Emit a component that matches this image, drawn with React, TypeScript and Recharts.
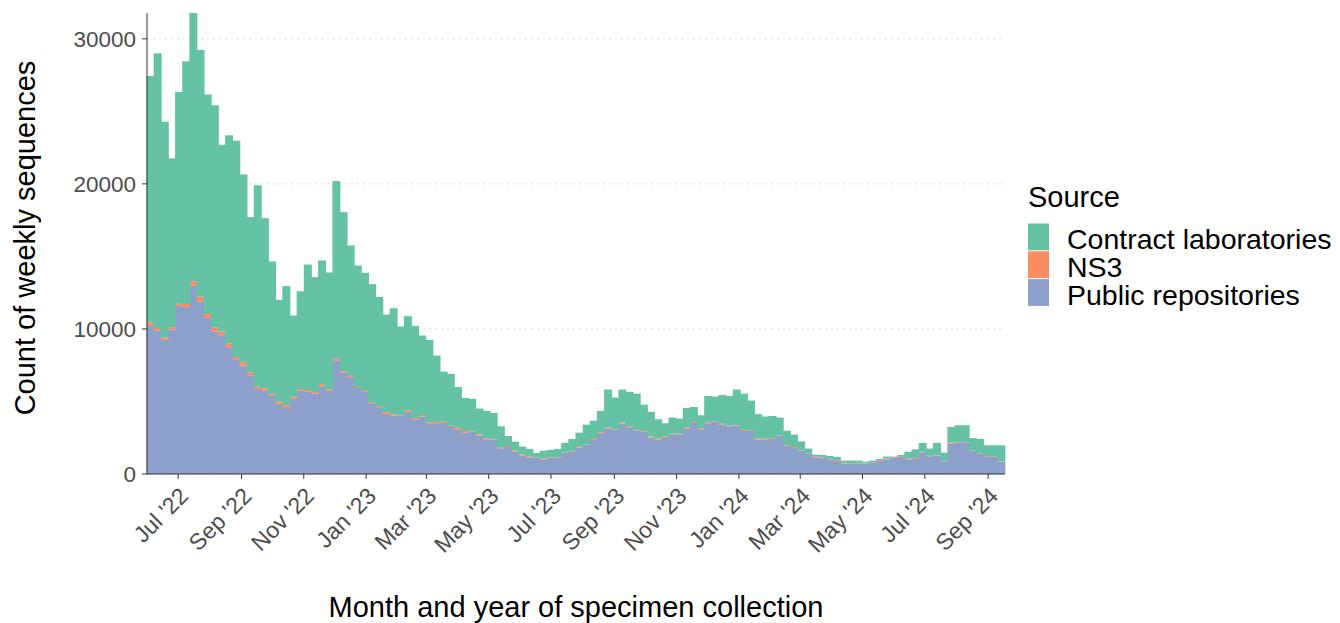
import { BarChart, Bar, XAxis, YAxis, CartesianGrid } from "recharts";

// weekly bars, first week centred on 4 Jun 2022
const weekCount = 120;

const publicRepos = [
  10260, 9910, 9250, 9960, 11590, 11520, 12970, 11910, 10760, 9840,
  9570, 8740, 7910, 7480, 6810, 5870, 5750, 5380, 4850, 4550,
  5200, 5750, 5680, 5540, 6050, 5730, 7840, 6970, 6670, 5930,
  5660, 4830, 4550, 4160, 4030, 4030, 4280, 3770, 3960, 3450,
  3500, 3520, 3240, 3080, 2850, 2940, 2650, 2390, 2370, 1770,
  1860, 1560, 1290, 1150, 1100, 1010, 1130, 1130, 1450, 1560,
  1820, 2000, 2350, 2810, 3130, 3040, 3470, 3220, 3010, 2920,
  2510, 2370, 2480, 2740, 2740, 3130, 3520, 3080, 3500, 3590,
  3400, 3290, 3310, 2970, 2990, 2370, 2390, 2440, 2620, 1960,
  1790, 1590, 1380, 1150, 1130, 1010, 900, 710, 690, 740,
  690, 760, 900, 1010, 1130, 1170, 1010, 1040, 1500, 1220,
  1270, 870, 2090, 2160, 2160, 1590, 1400, 1220, 1220, 850,
];

const ns3 = [
  200, 160, 160, 160, 140, 200, 300, 320, 280, 250,
  250, 250, 160, 250, 180, 140, 140, 110, 160, 180,
  140, 110, 110, 110, 140, 110, 140, 110, 90, 70,
  70, 90, 90, 110, 90, 30, 110, 90, 110, 110,
  90, 90, 90, 110, 110, 40, 90, 70, 40, 70,
  70, 70, 70, 70, 40, 70, 40, 40, 40, 40,
  50, 40, 70, 70, 70, 40, 70, 70, 40, 40,
  70, 70, 90, 40, 40, 70, 70, 70, 70, 40,
  70, 40, 40, 70, 40, 70, 40, 40, 40, 40,
  70, 40, 30, 60, 30, 30, 60, 30, 50, 30,
  30, 40, 60, 60, 30, 60, 60, 60, 30, 30,
  30, 30, 70, 30, 30, 30, 30, 20, 20, 20,
];

const contractLabs = [
  16980, 18930, 14880, 11640, 14610, 16730, 18510, 17000, 15130, 15330,
  12880, 14360, 14910, 12920, 10720, 13890, 11750, 9160, 6990, 8220,
  5590, 6740, 8650, 7920, 8530, 8050, 12210, 10970, 8990, 8370,
  8140, 8170, 7570, 6720, 7310, 6110, 6490, 6350, 5480, 5690,
  4580, 3450, 3570, 2810, 2280, 2200, 1770, 1890, 1800, 1450,
  690, 600, 530, 510, 310, 530, 490, 560, 650, 815,
  980, 1360, 1260, 1470, 2620, 2190, 2280, 2370, 2490, 1820,
  1700, 1330, 930, 1110, 1040, 1350, 1030, 900, 1810, 1710,
  1980, 2050, 2470, 2500, 2030, 1680, 1530, 1520, 1230, 990,
  850, 620, 340, 120, 150, 200, 210, 180, 180, 150,
  130, 120, 80, 130, 40, 80, 470, 600, 610, 500,
  840, 570, 1080, 1170, 1170, 860, 990, 740, 740, 1110,
];

// days after 4 Jun 2022 where each month tick falls
const monthTickDays = [27, 89, 150, 211, 270, 331, 392, 454, 515, 576, 636, 697, 758, 820];
const monthTickLabels = [
  "Jul '22", "Sep '22", "Nov '22", "Jan '23", "Mar '23", "May '23", "Jul '23",
  "Sep '23", "Nov '23", "Jan '24", "Mar '24", "May '24", "Jul '24", "Sep '24",
];

const yTicks = [0, 10000, 20000, 30000];

const legendItems = [
  { name: "Contract laboratories", color: "#66C2A5" },
  { name: "NS3", color: "#FC8D62" },
  { name: "Public repositories", color: "#8DA0CB" },
];

const FONT = "'Liberation Sans', Arial, sans-serif";

const chartData = Array.from({ length: weekCount }, (_, i) => ({
  week: i,
  day: i * 7,
  publicRepos: publicRepos[i],
  ns3: ns3[i],
  contractLabs: contractLabs[i],
}));

function MonthTick(props: any) {
  const { x, payload } = props;
  const idx = monthTickDays.indexOf(payload.value);
  const tx = x + 11.5;
  const ty = 497.5;
  return (
    <text
      x={tx}
      y={ty}
      transform={`rotate(-45 ${tx} ${ty})`}
      textAnchor="end"
      fontSize={23}
      fontFamily={FONT}
      fill="#4d4d4d"
    >
      {monthTickLabels[idx]}
    </text>
  );
}

// widen each weekly rect a touch so neighbouring weeks butt together
function WeekRect(props: any) {
  const { x, y, width, height, fill } = props;
  if (!height || height <= 0) return null;
  return <rect x={x - 0.5} y={y} width={width + 1} height={height} fill={fill} />;
}

export default function App() {
  return (
    <div style={{ position: "absolute", left: 0, top: 0, width: 1340, height: 623, background: "#fff" }}>
      <BarChart
        width={1340}
        height={623}
        data={chartData}
        margin={{ top: 13, right: 335, bottom: 0, left: 0 }}
        barCategoryGap={0}
        barGap={0}
      >
        <CartesianGrid vertical={false} stroke="#d4d4d4" strokeDasharray="2 4" syncWithTicks />
        <XAxis dataKey="week" hide height={0} />
        <XAxis
          xAxisId="months"
          type="number"
          dataKey="day"
          domain={[-3.5, 836.5]}
          allowDataOverflow
          ticks={monthTickDays}
          interval={0}
          height={149}
          tick={<MonthTick />}
          tickSize={5}
          tickLine={{ stroke: "#333" }}
          axisLine={{ stroke: "#333" }}
        />
        <YAxis
          type="number"
          width={147}
          domain={[0, "dataMax"]}
          ticks={yTicks}
          interval={0}
          tickSize={5}
          tickMargin={6}
          tickLine={{ stroke: "#333" }}
          axisLine={{ stroke: "#333" }}
          tick={{ fill: "#4d4d4d", fontSize: 22.5, fontFamily: FONT }}
        />
        <Bar dataKey="publicRepos" stackId="src" fill="#8DA0CB" shape={<WeekRect />} isAnimationActive={false} />
        <Bar dataKey="ns3" stackId="src" fill="#FC8D62" shape={<WeekRect />} isAnimationActive={false} />
        <Bar dataKey="contractLabs" stackId="src" fill="#66C2A5" shape={<WeekRect />} isAnimationActive={false} />
      </BarChart>

      <svg
        width={1340}
        height={623}
        style={{ position: "absolute", left: 0, top: 0, pointerEvents: "none" }}
        fontFamily={FONT}
      >
        <text x={35} y={238} transform="rotate(-90 35 238)" textAnchor="middle" fontSize={29} fill="#000">
          Count of weekly sequences
        </text>
        <text x={576} y={616.5} textAnchor="middle" fontSize={29} fill="#000">
          Month and year of specimen collection
        </text>
        <text x={1028} y={207} fontSize={29} fill="#000">
          Source
        </text>
        {legendItems.map((item, i) => (
          <g key={item.name}>
            <rect x={1028} y={223.5 + i * 27.8} width={21} height={26.8} fill={item.color} />
            <text x={1067} y={249 + i * 27.8} fontSize={28.5} fill="#000">
              {item.name}
            </text>
          </g>
        ))}
      </svg>
    </div>
  );
}
